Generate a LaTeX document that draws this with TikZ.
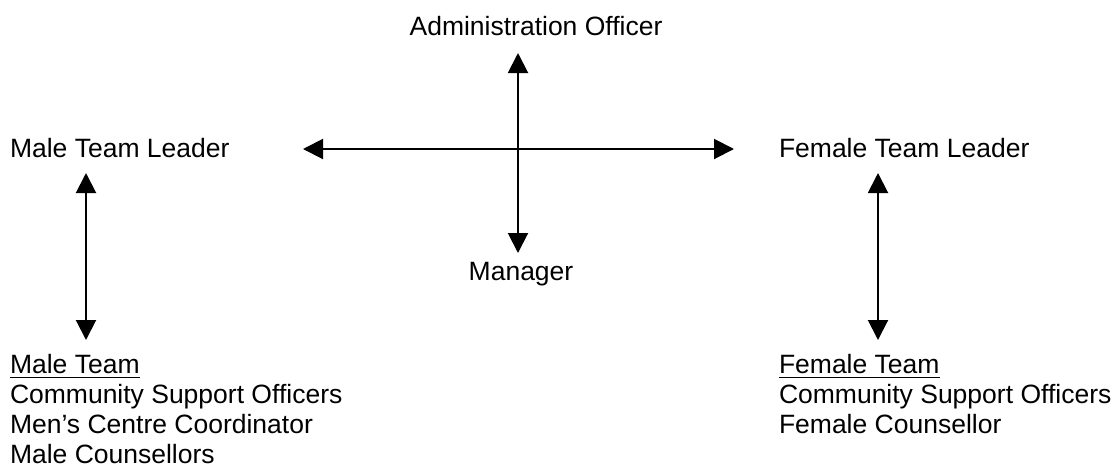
\documentclass[tikz,border=0pt]{standalone}
\usepackage{fontspec}
\setmainfont{Liberation Sans}
\usetikzlibrary{arrows.meta}
\begin{document}
\begin{tikzpicture}[x=1pt,y=-1pt,
  lbl/.style={inner sep=0pt,outer sep=0pt,anchor=base west,font=\fontsize{26.5}{30}\selectfont},
  lblc/.style={lbl,anchor=base},
  arr/.style={line width=2pt,{Triangle[length=20pt,width=20pt]}-{Triangle[length=20pt,width=20pt]}},
  uline/.style={line width=1.5pt}]
\useasboundingbox (0,0) rectangle (1114,467);
% text nodes
\node[lblc] (admin) at (536,35) {Administration Officer};
\node[lblc] (mgr) at (521,280) {Manager};
\node[lbl] (mtl) at (10,157) {Male Team Leader};
\node[lbl] (ftl) at (779,157) {Female Team Leader};
\node[lbl] (mt) at (10,373) {Male Team};
\node[lbl] (mt1) at (10,403) {Community Support Officers};
\node[lbl] (mt2) at (10,433) {Men’s Centre Coordinator};
\node[lbl] (mt3) at (10,463) {Male Counsellors};
\node[lbl] (ft) at (779,373) {Female Team};
\node[lbl] (ft1) at (779,403) {Community Support Officers};
\node[lbl] (ft2) at (779,433) {Female Counsellor};
% underlines
\draw[uline] ([yshift=-4pt]mt.south west) -- ([yshift=-4pt]mt.south east);
\draw[uline] ([yshift=-4pt]ft.south west) -- ([yshift=-4pt]ft.south east);
% arrow end coordinates
\coordinate (vtop) at (518,53);
\coordinate (vbot) at (518,253);
\coordinate (hl) at (303,149);
\coordinate (hr) at (734,149);
\coordinate (ltop) at (86,173);
\coordinate (lbot) at (86,340);
\coordinate (rtop) at (878,173);
\coordinate (rbot) at (878,340);
% arrows
\draw[arr] (vtop) -- (vbot);
\draw[arr] (hl) -- (hr);
\draw[arr] (ltop) -- (lbot);
\draw[arr] (rtop) -- (rbot);
\end{tikzpicture}
\end{document}
